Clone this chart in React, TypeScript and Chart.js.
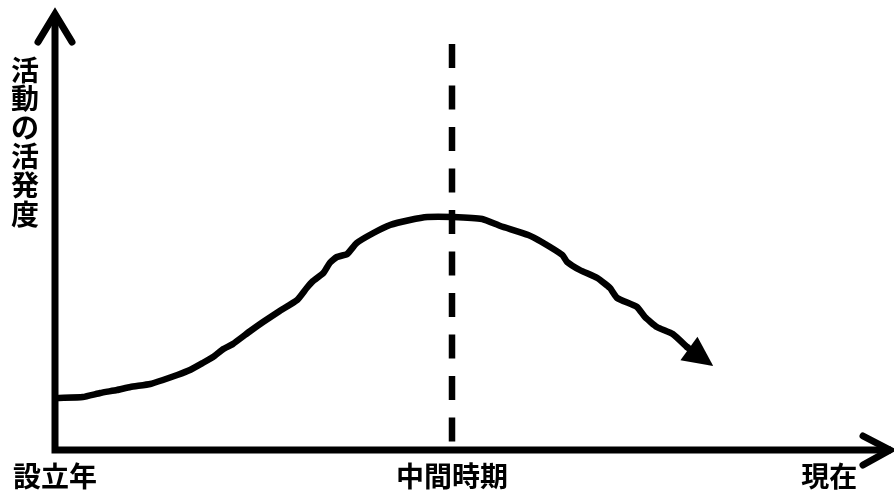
import React, { useEffect, useRef } from "react";
import { Chart, registerables } from "chart.js";

Chart.register(...registerables);

// Activity curve: time (0 = founding, 50 = midpoint) vs. activity level
const timeValues = [
  0.5, 3.5, 5.7, 7.8, 9.5, 12.0, 13.6, 15.4, 17.0, 18.6, 19.9, 21.2, 22.4, 24.6, 26.2,
  28.3, 30.5, 31.7, 32.5, 33.8, 34.6, 35.5, 36.8, 38.0, 40.1, 42.2, 44.7, 46.9, 50.1,
  53.8, 56.1, 59.6, 61.3, 63.9, 64.5, 66.1, 68.3, 69.9, 70.8, 73.3, 74.3, 75.8, 77.8, 79.6,
];
const activityValues = [
  13.0, 13.25, 14.25, 15.0, 15.75, 16.5, 17.5, 18.75, 20.0, 21.75, 23.25, 25.25, 26.5,
  29.75, 32.0, 34.75, 37.5, 40.5, 42.25, 44.25, 46.75, 48.25, 49.0, 51.75, 54.25, 56.25,
  57.5, 58.25, 58.25, 57.75, 56.0, 53.75, 52.0, 48.75, 47.0, 45.0, 43.0, 40.5, 38.0,
  35.75, 33.25, 30.75, 29.0, 25.75,
];
// Where the trend arrow points
const arrowTip = { x: 82.9, y: 21.0 };

const xTickLabels = ["設立年", "中間時期", "現在"];
const xTickValues = [0, 50, 97.5];
const midpointValue = 50;
const yAxisTitle = "活動の活発度";

const FONT = 'bold 28px "Noto Sans CJK JP", "Noto Sans", sans-serif';

const diagramPlugin = {
  id: "diagram",
  beforeDatasetsDraw(chart: any) {
    const { ctx, chartArea, scales } = chart;
    const x0 = chartArea.left;
    const y0 = chartArea.bottom;
    ctx.save();
    ctx.strokeStyle = "#000";
    ctx.lineWidth = 7;
    ctx.lineCap = "butt";
    // axes
    ctx.beginPath();
    ctx.moveTo(x0, 15);
    ctx.lineTo(x0, y0 + 3.5);
    ctx.moveTo(x0 - 3.5, y0);
    ctx.lineTo(chart.width - 3, y0);
    ctx.stroke();
    // arrow heads on the axes
    ctx.lineCap = "round";
    ctx.lineJoin = "miter";
    ctx.beginPath();
    ctx.moveTo(x0 - 17, 42);
    ctx.lineTo(x0, 14);
    ctx.lineTo(x0 + 17, 42);
    ctx.stroke();
    const xr = chart.width - 4;
    ctx.beginPath();
    ctx.moveTo(xr - 27, y0 - 14);
    ctx.lineTo(xr, y0);
    ctx.lineTo(xr - 27, y0 + 15);
    ctx.stroke();
    // dashed midpoint marker
    const xm = scales.x.getPixelForValue(midpointValue);
    ctx.lineCap = "butt";
    ctx.lineWidth = 6.5;
    ctx.setLineDash([24, 17.5]);
    ctx.beginPath();
    ctx.moveTo(xm, 44);
    ctx.lineTo(xm, y0 - 3);
    ctx.stroke();
    ctx.restore();
  },
  afterDatasetsDraw(chart: any) {
    const { ctx, scales } = chart;
    ctx.save();
    // arrow head at the end of the curve
    const n = timeValues.length;
    const px = scales.x.getPixelForValue(timeValues[n - 1]);
    const py = scales.y.getPixelForValue(activityValues[n - 1]);
    const tx = scales.x.getPixelForValue(arrowTip.x);
    const ty = scales.y.getPixelForValue(arrowTip.y);
    const ang = Math.atan2(ty - py, tx - px);
    const len = 30;
    const half = 14.5;
    const bx = tx - Math.cos(ang) * len;
    const by = ty - Math.sin(ang) * len;
    ctx.fillStyle = "#000";
    ctx.beginPath();
    ctx.moveTo(tx, ty);
    ctx.lineTo(bx + Math.sin(ang) * half, by - Math.cos(ang) * half);
    ctx.lineTo(bx - Math.sin(ang) * half, by + Math.cos(ang) * half);
    ctx.closePath();
    ctx.fill();
    ctx.lineWidth = 6.5;
    ctx.lineCap = "round";
    ctx.strokeStyle = "#000";
    ctx.beginPath();
    ctx.moveTo(px, py);
    ctx.lineTo(bx, by);
    ctx.stroke();

    // labels
    ctx.font = FONT;
    ctx.textBaseline = "middle";
    ctx.textAlign = "center";
    xTickLabels.forEach((label, i) => {
      ctx.fillText(label, scales.x.getPixelForValue(xTickValues[i]), 476);
    });
    const chars = Array.from(yAxisTitle);
    chars.forEach((c, i) => {
      ctx.fillText(c, 25, 70 + i * 28.8);
    });
    ctx.restore();
  },
};

export default function App() {
  const canvasRef = useRef<HTMLCanvasElement | null>(null);

  useEffect(() => {
    if (!canvasRef.current) return;
    const chart = new Chart(canvasRef.current, {
      type: "line",
      data: {
        datasets: [
          {
            data: timeValues.map((t, i) => ({ x: t, y: activityValues[i] })),
            borderColor: "#000",
            borderWidth: 6.5,
            borderJoinStyle: "round",
            borderCapStyle: "round",
            tension: 0.15,
            pointRadius: 0,
            fill: false,
          },
        ],
      },
      options: {
        responsive: false,
        animation: false,
        devicePixelRatio: 1,
        layout: { padding: { left: 55, right: 45, top: 50, bottom: 41 } },
        plugins: { legend: { display: false }, tooltip: { enabled: false } },
        scales: {
          x: { type: "linear", min: 0, max: 100, display: false },
          y: { type: "linear", min: 0, max: 100, display: false },
        },
      },
      plugins: [diagramPlugin],
    });
    return () => chart.destroy();
  }, []);

  return (
    <div style={{ position: "absolute", left: 0, top: 0, width: 894, height: 491, background: "#fff" }}>
      <canvas ref={canvasRef} width={894} height={491} />
    </div>
  );
}
